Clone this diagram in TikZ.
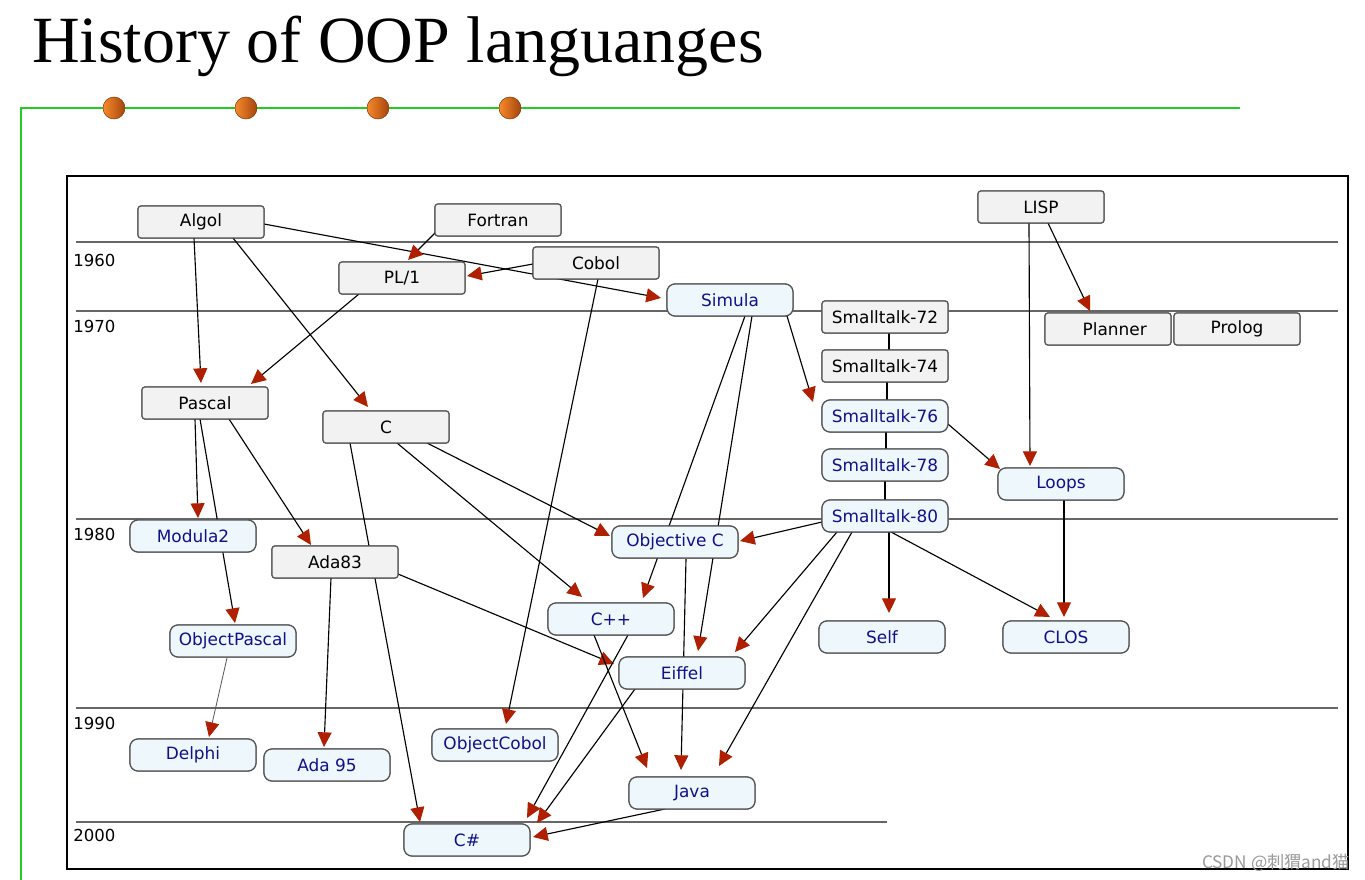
\documentclass[tikz,border=0pt]{standalone}
\usepackage{fontspec}
\usetikzlibrary{arrows.meta,calc}
\newfontfamily\dejavu{DejaVu Sans}
\newfontfamily\titlef{Liberation Serif}
\newfontfamily\cjkwm{Noto Sans CJK SC}
\definecolor{arrred}{HTML}{B02000}
\definecolor{grayfill}{HTML}{F2F2F2}
\definecolor{bluefill}{HTML}{EEF8FC}
\definecolor{bluetext}{HTML}{10108A}
\definecolor{boxline}{HTML}{555555}
\definecolor{yearline}{HTML}{666666}
\definecolor{greenline}{HTML}{22CC22}
\definecolor{orangeL}{HTML}{F88A2C}
\definecolor{orangeR}{HTML}{A5450E}
\tikzset{
  oldbox/.style={draw=boxline, line width=0.9pt, fill=grayfill, rounded corners=2.2pt,
    minimum width=94.5pt, minimum height=24pt, inner sep=0pt,
    font=\dejavu\fontsize{12.7pt}{14pt}\selectfont, text=black},
  newbox/.style={oldbox, fill=bluefill, rounded corners=6pt, text=bluetext},
  year/.style={anchor=west, inner sep=0pt, font=\dejavu\fontsize{12.4pt}{14pt}\selectfont},
  yline/.style={draw=yearline, line width=1.5pt},
  arr/.style={draw=black, line width=0.85pt, -{Triangle[length=11pt,width=10.5pt,color=arrred]}},
  plain/.style={draw=black, line width=0.85pt},
  ball/.style={circle, minimum size=16.5pt, inner sep=0pt, left color=orangeL, right color=orangeR, draw=orangeR!80!black, line width=0.4pt}
}
\begin{document}
\begin{tikzpicture}[x=0.75pt,y=-0.75pt]
\useasboundingbox (0,0) rectangle (1365,880);
\fill[white] (0,0) rectangle (1365,880);
% title
\node[anchor=base west, inner sep=0pt, font=\titlef\fontsize{49.5pt}{54pt}\selectfont] (title) at (32,63) {History of OOP languanges};
% green frame line
\coordinate (gA) at (1240,108);
\coordinate (gB) at (21,108);
\coordinate (gC) at (21,880);
\draw[greenline, line width=1.5pt] (gA) -- (gB) -- (gC);
\foreach \i/\x in {1/114,2/246,3/378,4/510} \node[ball] (ball\i) at (\x,108) {};
% black frame
\draw[black, line width=1.6pt] (67,176) rectangle (1348,869);
% year lines
\draw[yline] (76,242) -- (1338,242);
\draw[yline] (76,311) -- (1338,311);
\draw[yline] (76,519) -- (1338,519);
\draw[yline] (76,708) -- (1338,708);
\draw[yline] (76,822) -- (887,822);
\node[year] (y1960) at (73,260) {1960};
\node[year] (y1970) at (73,326) {1970};
\node[year] (y1980) at (73,534) {1980};
\node[year] (y1990) at (73,723) {1990};
\node[year] (y2000) at (73,835) {2000};
\newcommand{\allnodes}{%
\node[oldbox] (algol) at (201,222) {Algol};
\node[oldbox] (fortran) at (498,220) {Fortran};
\node[oldbox] (cobol) at (596,263) {Cobol};
\node[oldbox] (pl1) at (402,278) {PL/1};
\node[oldbox] (lisp) at (1041,207) {LISP};
\node[oldbox] (st72) at (885,317) {Smalltalk-72};
\node[oldbox] (st74) at (885,366) {Smalltalk-74};
\node[oldbox] (planner) at (1108,329) {\hspace*{10pt}Planner};
\node[oldbox] (prolog) at (1237,329) {Prolog};
\node[oldbox] (pascal) at (205,403) {Pascal};
\node[oldbox] (c) at (386,427) {C};
\node[oldbox] (ada83) at (335,562) {Ada83};
\node[newbox] (simula) at (730,300) {Simula};
\node[newbox] (st76) at (885,416) {Smalltalk-76};
\node[newbox] (st78) at (885,465) {Smalltalk-78};
\node[newbox] (st80) at (885,516) {Smalltalk-80};
\node[newbox] (loops) at (1061,484) {Loops};
\node[newbox] (modula) at (193,536) {Modula2};
\node[newbox] (objc) at (675,542) {Objective C};
\node[newbox] (cpp) at (611,619) {C++};
\node[newbox] (self) at (882,637) {Self};
\node[newbox] (clos) at (1066,637) {CLOS};
\node[newbox] (objpascal) at (233,641) {ObjectPascal};
\node[newbox] (eiffel) at (682,673) {Eiffel};
\node[newbox] (delphi) at (193,755) {Delphi};
\node[newbox] (ada95) at (327,765) {Ada 95};
\node[newbox] (objcobol) at (495,745) {ObjectCobol};
\node[newbox] (java) at (692,793) {Java};
\node[newbox] (csharp) at (467,840) {C\#};
}
\allnodes
% edges
\draw[arr] ([shift={(63,2)}]algol.center) -- ([shift={(-69,-2)}]simula.center);
\draw[arr] ([shift={(-62,12)}]fortran.center) -- ([shift={(6,-18)}]pl1.center);
\draw[arr] ([shift={(-63,1)}]cobol.center) -- ([shift={(65,-2)}]pl1.center);
\draw[arr] ([shift={(-7,16)}]algol.center) -- ([shift={(-4,-20)}]pascal.center);
\draw[arr] ([shift={(32,16)}]algol.center) -- ([shift={(-18,-20)}]c.center);
\draw[arr] ([shift={(-43,16)}]pl1.center) -- ([shift={(46,-19)}]pascal.center);
\draw[arr] ([shift={(2,16)}]cobol.center) -- ([shift={(11,-21)}]objcobol.center);
\draw[arr] ([shift={(15,16)}]simula.center) -- ([shift={(32,-21)}]cpp.center);
\draw[arr] ([shift={(22,16)}]simula.center) -- ([shift={(16,-22)}]eiffel.center);
\draw[arr] ([shift={(57,16)}]simula.center) -- ([shift={(-72,-14)}]st76.center);
\draw[arr] ([shift={(11,17)}]objc.center) -- ([shift={(-11,-23)}]java.center);
\draw[plain] ([shift={(4,16)}]st72.center) -- ([shift={(4,-16)}]st74.center);
\draw[plain] ([shift={(2,16)}]st74.center) -- ([shift={(2,-16)}]st76.center);
\draw[plain] ([shift={(1,16)}]st76.center) -- ([shift={(1,-16)}]st78.center);
\draw[plain] ([shift={(0,16)}]st78.center) -- ([shift={(0,-16)}]st80.center);
\draw[arr] ([shift={(63,8)}]st76.center) -- ([shift={(-61,-15)}]loops.center);
\draw[arr] ([shift={(-12,16)}]lisp.center) -- ([shift={(-31,-18)}]loops.center);
\draw[arr] ([shift={(7,16)}]lisp.center) -- ([shift={(-18,-18)}]planner.center);
\draw[arr] ([shift={(3,16)}]loops.center) -- ([shift={(-2,-20)}]clos.center);
\draw[arr] ([shift={(6,16)}]st80.center) -- ([shift={(-16,-20)}]clos.center);
\draw[arr] ([shift={(4,16)}]st80.center) -- ([shift={(7,-24)}]self.center);
\draw[arr] ([shift={(-63,6)}]st80.center) -- ([shift={(65,-1)}]objc.center);
\draw[arr] ([shift={(-48,16)}]st80.center) -- ([shift={(53,-21)}]eiffel.center);
\draw[arr] ([shift={(-33,16)}]st80.center) -- ([shift={(27,-27)}]java.center);
\draw[arr] ([shift={(-10,16)}]pascal.center) -- ([shift={(5,-18)}]modula.center);
\draw[arr] ([shift={(-5,16)}]pascal.center) -- ([shift={(2,-18)}]objpascal.center);
\draw[arr] ([shift={(24,16)}]pascal.center) -- ([shift={(-24,-17)}]ada83.center);
\draw[arr] ([shift={(41,16)}]c.center) -- ([shift={(-65,-6)}]objc.center);
\draw[arr] ([shift={(11,16)}]c.center) -- ([shift={(-29,-22)}]cpp.center);
\draw[arr] ([shift={(-36,16)}]c.center) -- ([shift={(-47,-18)}]csharp.center);
\draw[arr] ([shift={(-4,16)}]ada83.center) -- ([shift={(-3,-18)}]ada95.center);
\draw[arr] ([shift={(63,12)}]ada83.center) -- ([shift={(-68,-9)}]eiffel.center);
\draw[arr, draw=boxline, line width=0.6pt] ([shift={(-6,17)}]objpascal.center) -- ([shift={(16,-18)}]delphi.center);
\draw[arr] ([shift={(-17,16)}]cpp.center) -- ([shift={(-45,-25)}]java.center);
\draw[arr] ([shift={(17,16)}]cpp.center) -- ([shift={(60,-22)}]csharp.center);
\draw[arr] ([shift={(-47,16)}]eiffel.center) -- ([shift={(70,-17)}]csharp.center);
\draw[arr] ([shift={(-27,16)}]java.center) -- ([shift={(66,-3)}]csharp.center);
% nodes on top so lines pass behind
\allnodes
% watermark
\node[anchor=base east, inner sep=0pt, text=black!40, font=\cjkwm\fontsize{12.9pt}{14pt}\selectfont] (wm) at (1350,868) {CSDN @刺猬and猫};
\end{tikzpicture}
\end{document}
